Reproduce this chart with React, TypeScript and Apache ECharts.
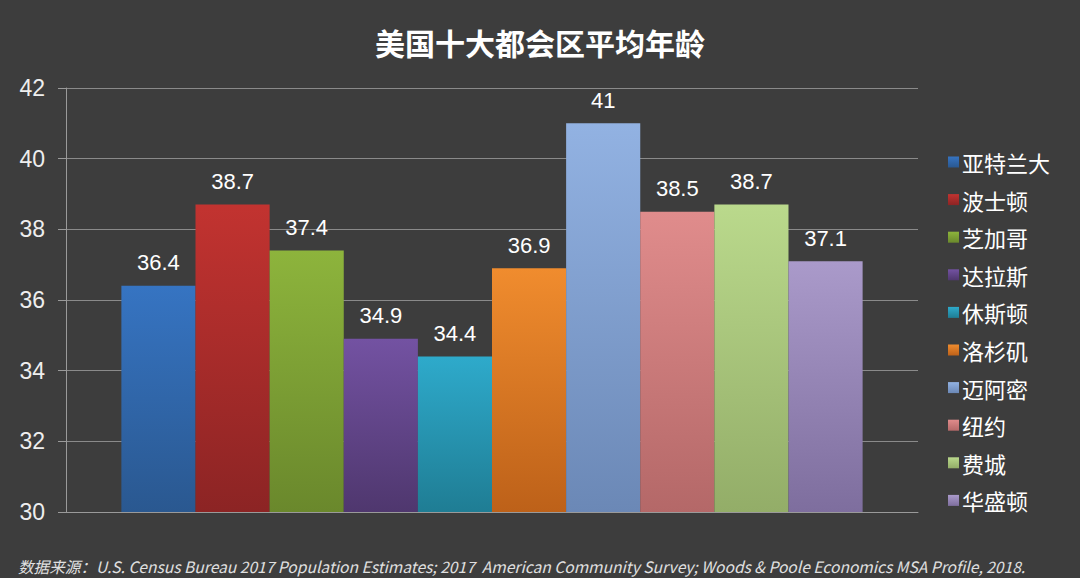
import React, { useEffect, useRef } from "react";
import * as echarts from "echarts";

const title = "美国十大都会区平均年龄";
const cities = ["亚特兰大", "波士顿", "芝加哥", "达拉斯", "休斯顿", "洛杉矶", "迈阿密", "纽约", "费城", "华盛顿"];
const ages = [36.4, 38.7, 37.4, 34.9, 34.4, 36.9, 41, 38.5, 38.7, 37.1];
const topColors = ["#3674c2", "#c23330", "#8db43c", "#7352a2", "#2eaacb", "#f08c2e", "#92b2e2", "#e08c8c", "#bad98c", "#aa9aca"];
const bottomColors = ["#2a5890", "#8c2424", "#6a882c", "#4f376e", "#1f7d94", "#bd6119", "#6b88b6", "#b46868", "#93ad68", "#7e6e9e"];
const yTicks = { min: 30, max: 42, interval: 2 };
const source = "数据来源：U.S. Census Bureau 2017 Population Estimates; 2017  American Community Survey; Woods & Poole Economics MSA Profile, 2018.";

export default function App() {
  const ref = useRef<HTMLDivElement>(null);
  useEffect(() => {
    const chart = echarts.init(ref.current!, null, { renderer: "svg" });
    chart.setOption({
      animation: false,
      backgroundColor: "#3d3d3d",
      title: {
        text: title,
        left: "center",
        top: 22,
        textStyle: { color: "#ffffff", fontSize: 30, fontWeight: "bold", fontFamily: "Noto Sans CJK SC" },
      },
      legend: {
        orient: "vertical",
        left: 943,
        top: 146,
        itemWidth: 11,
        itemHeight: 11,
        itemGap: 15.6,
        icon: "rect",
        textStyle: { color: "#ffffff", fontSize: 22, fontFamily: "Noto Sans CJK SC", padding: [0, 0, 0, -2] },
        data: cities,
      },
      grid: { left: 66, right: 162, top: 88, bottom: 66 },
      xAxis: {
        type: "category",
        data: [""],
        axisLine: { show: true, lineStyle: { color: "#9a9a9a" } },
        axisTick: { show: false },
        axisLabel: { show: false },
      },
      yAxis: {
        type: "value",
        min: yTicks.min,
        max: yTicks.max,
        interval: yTicks.interval,
        axisLine: { show: true, lineStyle: { color: "#9a9a9a" } },
        axisTick: { show: true, length: 8, lineStyle: { color: "#9a9a9a" } },
        axisLabel: { color: "#eeeeee", fontSize: 23, margin: 21, fontFamily: "Liberation Sans" },
        splitLine: { lineStyle: { color: "#8a8a8a" } },
      },
      series: cities.map((c, i) => ({
        name: c,
        type: "bar",
        data: [ages[i]],
        barGap: "0%",
        barCategoryGap: "13%",
        itemStyle: {
          color: new echarts.graphic.LinearGradient(0, 0, 0, 1, [
            { offset: 0, color: topColors[i] },
            { offset: 1, color: bottomColors[i] },
          ]),
        },
        label: {
          show: true,
          position: "top",
          distance: 12,
          color: "#ffffff",
          fontSize: 22,
          fontFamily: "Liberation Sans",
        },
      })),
      graphic: [
        {
          type: "text",
          left: 18,
          top: 558,
          style: {
            text: source,
            fill: "#e0e0e0",
            fontSize: 15.6,
            fontStyle: "italic",
            fontFamily: "Liberation Sans Narrow, Noto Sans CJK SC",
          },
        },
      ],
    });
    return () => chart.dispose();
  }, []);
  return <div ref={ref} style={{ width: 1080, height: 578, position: "fixed", left: 0, top: 0 }} />;
}
